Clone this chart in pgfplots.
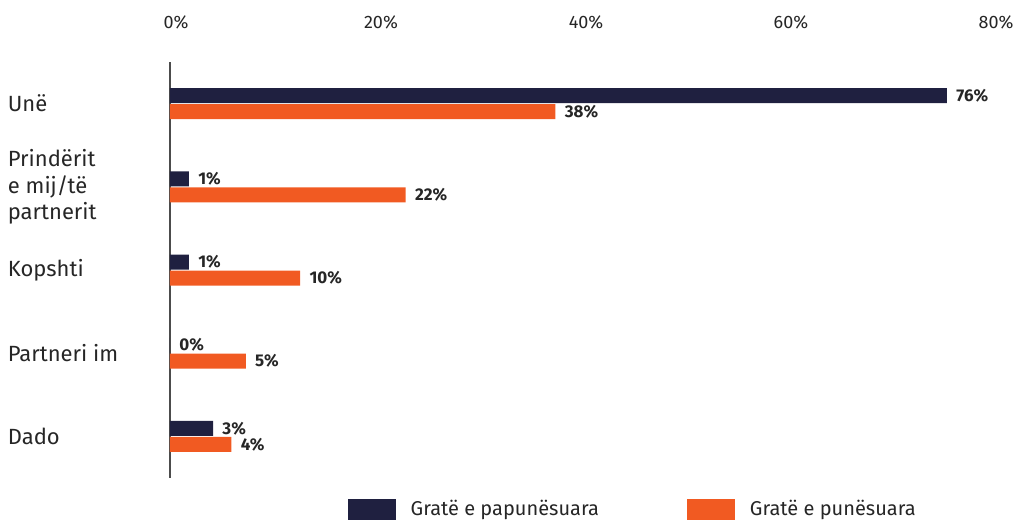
\documentclass[border=0pt]{standalone}
\usepackage{fontspec}
\setmainfont{Fira Sans}
\usepackage{pgfplots}
\pgfplotsset{compat=1.18}

\definecolor{navy}{HTML}{1F2040}
\definecolor{orng}{HTML}{F15A22}

\begin{document}
\begin{tikzpicture}
  \begin{axis}[
    xbar,
    scale only axis,
    width=410pt, height=208pt,
    xmin=0, xmax=80,
    ymin=-0.5, ymax=4.5,
    y dir=reverse,
    axis y line*=left,
    axis x line*=top,
    x axis line style={draw=none},
    y axis line style={draw=black!70, line width=0.6pt, -},
    xtick={0,20,40,60,80},
    xticklabels={0\%,20\%,40\%,60\%,80\%},
    xtick style={draw=none},
    ytick style={draw=none},
    x tick label style={font=\fontsize{9}{11}\selectfont, text=black!85, xshift=3pt, yshift=13pt},
    ytick={0,1,2,3,4},
    yticklabels={Unë, {Prindërit\\e mij/të\\partnerit}, Kopshti, Partneri im, Dado},
    y tick label style={font=\fontsize{11}{13.2}\selectfont, text=black!85, anchor=west, align=left, inner sep=0pt, xshift=-77pt},
    bar width=7.5pt,
    point meta=explicit symbolic,
    nodes near coords,
    every node near coord/.append style={font=\bfseries\fontsize{8.5}{10}\selectfont, text=black!85, anchor=west, inner sep=0pt, xshift=4.5pt},
    legend style={draw=none, at={(0.563,-0.04)}, anchor=north, legend columns=2,
      font=\fontsize{10}{12}\selectfont, text=black!85,
      /tikz/every even column/.append style={column sep=44pt},
      nodes={inner sep=0pt, xshift=0pt}},
    legend image code/.code={\fill[#1] (0pt,-5.25pt) rectangle (24pt,5.25pt);},
    ]
    \addplot[fill=navy, draw=none, bar shift=4pt] coordinates {
      (75.8,0) [76\%] (1.85,1) [1\%] (1.85,2) [1\%] (0,3) [0\%] (4.2,4) [3\%]
    };
    \addplot[fill=orng, draw=none, bar shift=-4pt] coordinates {
      (37.6,0) [38\%] (23.0,1) [22\%] (12.7,2) [10\%] (7.4,3) [5\%] (6.0,4) [4\%]
    };
    \legend{\hspace{7.5pt}Gratë e papunësuara, \hspace{7.5pt}Gratë e punësuara}
    \coordinate (sw) at (rel axis cs:0,0);
  \end{axis}
  \pgfresetboundingbox
  \path ([shift={(-85pt,-21.5pt)}]sw) rectangle ++(506.5pt,260.5pt);
\end{tikzpicture}
\end{document}
